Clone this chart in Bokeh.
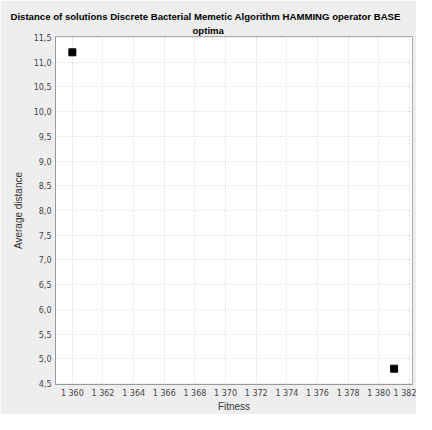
from bokeh.plotting import figure
from bokeh.models import FixedTicker, Range1d, Title
from bokeh.embed import file_html
from bokeh.resources import INLINE

fitness = [1360, 1381]
avg_distance = [11.2, 4.8]
x_ticks = list(range(1360, 1384, 2))
y_ticks = [4.5 + 0.5 * i for i in range(15)]
title_line1 = "Distance of solutions Discrete Bacterial Memetic Algorithm HAMMING operator BASE"
title_line2 = "optima"

def fmt_x(v):
    s = str(v)
    return s[0] + " " + s[1:]

def fmt_y(v):
    return ("%.1f" % v).replace(".", ",")

p = figure(width=416, height=414, output_backend="svg", toolbar_location=None,
           x_range=Range1d(1358.9, 1382.2), y_range=Range1d(4.48, 11.52),
           background_fill_color="white", border_fill_color="#eeeeee",
           min_border_left=55, min_border_right=4, min_border_top=0, min_border_bottom=28)

p.title = None
p.add_layout(Title(text=title_line2, align="left", offset=137, text_font="Liberation Sans",
                   text_font_size="9.6px", text_font_style="bold", text_color="black",
                   standoff=2), "above")
p.add_layout(Title(text=title_line1, align="left", offset=-45, text_font="Liberation Sans",
                   text_font_size="9.6px", text_font_style="bold", text_color="black",
                   standoff=0), "above")
p.add_layout(Title(text=" ", text_font_size="5px", standoff=0), "above")

p.scatter(fitness, avg_distance, marker="square", size=7, color="black")

p.xaxis.ticker = FixedTicker(ticks=x_ticks)
p.yaxis.ticker = FixedTicker(ticks=y_ticks)
p.xaxis.major_label_overrides = {t: fmt_x(t) for t in x_ticks}
p.yaxis.major_label_overrides = {t: fmt_y(t) for t in y_ticks}
p.xaxis.axis_label = "Fitness"
p.yaxis.axis_label = "Average distance"

for ax in (p.xaxis, p.yaxis):
    ax.axis_line_color = "#999999"
    ax.major_tick_line_color = None
    ax.major_tick_out = 0
    ax.major_tick_in = 0
    ax.minor_tick_line_color = None
    ax.major_label_text_font = "DejaVu Sans"
    ax.major_label_text_font_size = "8px"
    ax.major_label_text_color = "#444444"
    ax.major_label_standoff = 4
    ax.axis_label_text_font = "Liberation Sans"
    ax.axis_label_text_font_size = "10px"
    ax.axis_label_text_font_style = "normal"
    ax.axis_label_text_color = "#333333"
p.yaxis.axis_label_standoff = 7
p.xaxis.axis_label_standoff = 0

p.grid.grid_line_color = "#e0e0e0"
p.grid.grid_line_dash = "2 2"
p.outline_line_color = "#aaaaaa"

open("out.html", "w").write(file_html(p, INLINE))
